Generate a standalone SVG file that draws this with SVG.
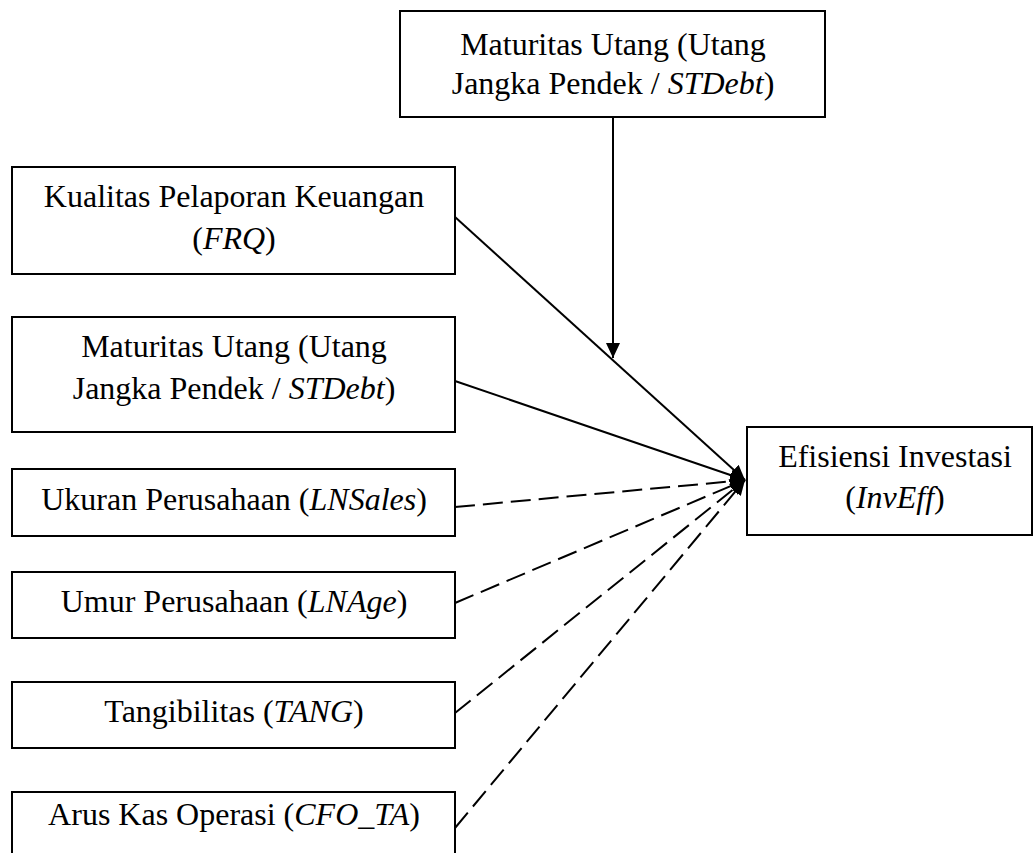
<svg xmlns="http://www.w3.org/2000/svg" width="1034" height="853" viewBox="0 0 1034 853">
<style>
.box{fill:#fff;stroke:#000;stroke-width:2}
.t{font-family:"Liberation Serif","Times New Roman",serif;font-size:32px;fill:#000;text-anchor:middle}
.i{font-style:italic}
.c{stroke:#000;stroke-width:2;fill:none;marker-end:url(#ah)}
.d{stroke-dasharray:20 8}
</style>
<defs>
<marker id="ah" markerUnits="userSpaceOnUse" markerWidth="16" markerHeight="16" refX="15" refY="7" orient="auto">
<path d="M0,0 L15,7 L0,14 z" fill="#000"/>
</marker>
</defs>
<rect width="1034" height="853" fill="#fff"/>
<g id="connectors">
<line class="c" x1="613" y1="117" x2="613" y2="358"/>
<line class="c" x1="455" y1="217" x2="745" y2="480"/>
<line class="c" x1="455" y1="381" x2="745" y2="480"/>
<line class="c d" x1="455" y1="507" x2="745" y2="480"/>
<line class="c d" x1="455" y1="603" x2="745" y2="480"/>
<line class="c d" x1="455" y1="713" x2="745" y2="480"/>
<line class="c d" x1="455" y1="828" x2="745" y2="480"/>
</g>
<g id="node-top">
<rect class="box" x="400" y="11" width="425" height="106"/>
<text class="t" x="613" y="55">Maturitas Utang (Utang</text>
<text class="t" x="613" y="94">Jangka Pendek / <tspan class="i">STDebt</tspan>)</text>
</g>
<g id="node-frq">
<rect class="box" x="12" y="167" width="443" height="107"/>
<text class="t" x="234" y="207">Kualitas Pelaporan Keuangan</text>
<text class="t" x="234" y="249">(<tspan class="i">FRQ</tspan>)</text>
</g>
<g id="node-stdebt">
<rect class="box" x="12" y="317" width="443" height="115"/>
<text class="t" x="234" y="357">Maturitas Utang (Utang</text>
<text class="t" x="234" y="399">Jangka Pendek / <tspan class="i">STDebt</tspan>)</text>
</g>
<g id="node-lnsales">
<rect class="box" x="12" y="469" width="443" height="67"/>
<text class="t" x="234" y="510">Ukuran Perusahaan (<tspan class="i">LNSales</tspan>)</text>
</g>
<g id="node-lnage">
<rect class="box" x="12" y="572" width="443" height="66"/>
<text class="t" x="234" y="612">Umur Perusahaan (<tspan class="i">LNAge</tspan>)</text>
</g>
<g id="node-tang">
<rect class="box" x="12" y="682" width="443" height="66"/>
<text class="t" x="234" y="722">Tangibilitas (<tspan class="i">TANG</tspan>)</text>
</g>
<g id="node-cfo">
<rect class="box" x="12" y="792" width="443" height="80"/>
<text class="t" x="234" y="825">Arus Kas Operasi (<tspan class="i">CFO_TA</tspan>)</text>
</g>
<g id="node-inveff">
<rect class="box" x="747" y="427" width="285" height="108"/>
<text class="t" x="895" y="467">Efisiensi Investasi</text>
<text class="t" x="895" y="508">(<tspan class="i">InvEff</tspan>)</text>
</g>
</svg>
